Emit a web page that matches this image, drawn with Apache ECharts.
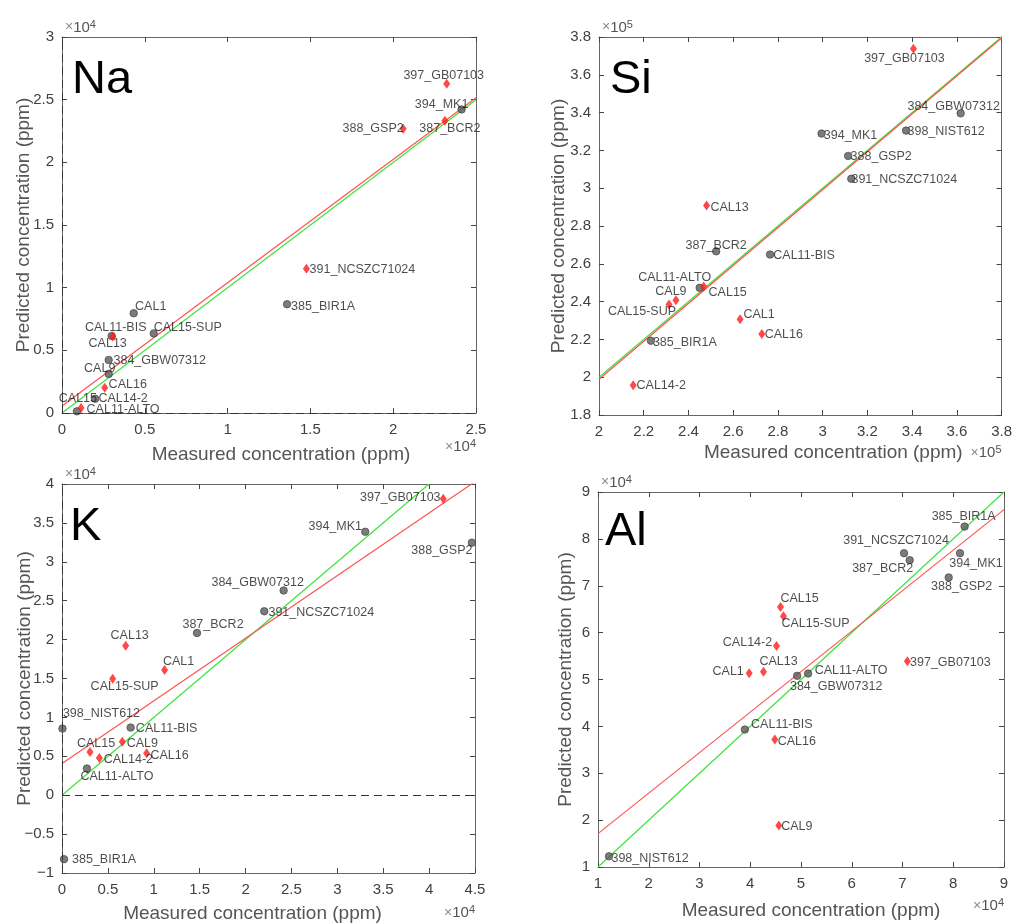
<!DOCTYPE html>
<html><head><meta charset="utf-8">
<script src="https://cdn.jsdelivr.net/npm/echarts@6/dist/echarts.min.js"></script>
<style>html,body{margin:0;padding:0;background:#fff}#c{width:1015px;height:924px}</style>
</head><body><div id="c"></div>
<script>
// ---------------- DATA (ppm) ----------------
// Na
const naNames = ['397_GB07103','394_MK1','387_BCR2','388_GSP2','391_NCSZC71024','385_BIR1A','CAL1','CAL15-SUP','CAL11-BIS','CAL13','384_GBW07312','CAL9','CAL16','CAL14-2','CAL15','CAL11-ALTO'];
const naMeasured = [23230, 24130, 23120, 20600, 14760, 13590, 4330, 5540, 3000, 3060, 2820, 2820, 2580, 2000, 900, 1150];
const naPredicted = [26260, 24220, 23320, 22670, 11510, 8680, 7960, 6350, 6150, 6110, 4230, 3120, 2010, 1140, 130, 400];
const naGroup = ['r','g','r','r','r','g','g','g','g','r','g','g','r','g','g','r'];
const naFitX = [0, 25000], naFitY = [560, 25160];
const naIdX = [0, 25000], naIdY = [0, 25000];

// Si
const siNames = ['397_GB07103','384_GBW07312','398_NIST612','394_MK1','388_GSP2','391_NCSZC71024','CAL13','387_BCR2','CAL11-BIS','CAL11-ALTO','CAL15','CAL9','CAL15-SUP','CAL1','CAL16','385_BIR1A','CAL14-2'];
const siMeasured = [340600, 361700, 337300, 299500, 311400, 312800, 248100, 252400, 276500, 245000, 246800, 234400, 231300, 263100, 272800, 223200, 215300];
const siPredicted = [373800, 339600, 330500, 328900, 317100, 305000, 290800, 266600, 264900, 247300, 248000, 240700, 238400, 230700, 222800, 219300, 195700];
const siGroup = ['r','g','g','g','g','g','r','g','g','g','r','r','r','r','r','g','r'];
const siFitX = [200000, 380000], siFitY = [198900, 379500];
const siIdX = [200000, 380000], siIdY = [200000, 380000];

// K
const kNames = ['397_GB07103','394_MK1','388_GSP2','384_GBW07312','391_NCSZC71024','387_BCR2','CAL13','CAL1','CAL15-SUP','398_NIST612','CAL11-BIS','CAL9','CAL15','CAL14-2','CAL16','CAL11-ALTO','385_BIR1A'];
const kMeasured = [41540, 33040, 44660, 24150, 22040, 14710, 6940, 11180, 5520, 50, 7480, 6570, 3050, 4070, 9220, 2720, 220];
const kPredicted = [38100, 33860, 32460, 26310, 23640, 20850, 19200, 16100, 14960, 8560, 8690, 6860, 5550, 4790, 5380, 3430, -8220];
const kGroup = ['r','g','g','g','g','g','r','r','r','g','g','r','r','r','r','g','g'];
const kFitX = [0, 45000], kFitY = [4070, 40300];
const kIdX = [0, 40000], kIdY = [0, 40000];

// Al
const alNames = ['385_BIR1A','391_NCSZC71024','387_BCR2','394_MK1','388_GSP2','CAL15','CAL15-SUP','CAL14-2','397_GB07103','CAL13','CAL1','384_GBW07312','CAL11-ALTO','CAL11-BIS','CAL16','CAL9','398_NIST612'];
const alMeasured = [82240, 70300, 71420, 81330, 79100, 45960, 46550, 45170, 70960, 42610, 39790, 49240, 51400, 38940, 44840, 45630, 12170];
const alPredicted = [82620, 76950, 75460, 76950, 71770, 65460, 63480, 57160, 53900, 51630, 51350, 50780, 51280, 39320, 37190, 18830, 12280];
const alGroup = ['g','g','g','g','g','r','r','r','r','r','r','g','g','g','r','r','g'];
const alFitX = [10000, 90000], alFitY = [17120, 86240];
const alIdX = [10000, 90000], alIdY = [10000, 90000];

// ---------------- STYLE / LAYOUT ----------------
const FONT = '"Liberation Sans", Arial, Helvetica, sans-serif';
const AX = '#666666', TXT = '#404040', TITLE = '#555555';

const naOff = {'397_GB07103':[-3,-8],'394_MK1':[-20,-5],'387_BCR2':[5,8],'388_GSP2':[-30,0],'391_NCSZC71024':[56,1],'385_BIR1A':[36,2],'CAL1':[17,-7],'CAL15-SUP':[34,-6],'CAL11-BIS':[4,-8],'CAL13':[-5,7],'384_GBW07312':[51,1],'CAL9':[-9,-5],'CAL16':[23,-3],'CAL14-2':[28,0],'CAL15':[1,-13],'CAL11-ALTO':[42,2]};
const siOff = {'397_GB07103':[-9,10],'384_GBW07312':[-7,-7],'398_NIST612':[40,1],'394_MK1':[29,2],'388_GSP2':[33,1],'391_NCSZC71024':[53,1],'CAL13':[23,2],'387_BCR2':[0,-6],'CAL11-BIS':[34,1],'CAL11-ALTO':[-25,-10],'CAL15':[24,6],'CAL9':[-5,-9],'CAL15-SUP':[-27,7],'CAL1':[19,-5],'CAL16':[22,0],'385_BIR1A':[34,2],'CAL14-2':[28,0]};
const kOff = {'397_GB07103':[-43,-1],'394_MK1':[-30,-5],'388_GSP2':[-30,8],'384_GBW07312':[-26,-8],'391_NCSZC71024':[57,1],'387_BCR2':[16,-8],'CAL13':[4,-10],'CAL1':[14,-8],'CAL15-SUP':[12,8],'398_NIST612':[39,-15],'CAL11-BIS':[36,1],'CAL9':[20,2],'CAL15':[6,-8],'CAL14-2':[29,2],'CAL16':[23,2],'CAL11-ALTO':[30,8],'385_BIR1A':[40,0]};
const alOff = {'385_BIR1A':[-1,-10],'391_NCSZC71024':[-8,-13],'387_BCR2':[-27,8],'394_MK1':[16,10],'388_GSP2':[13,9],'CAL15':[19,-8],'CAL15-SUP':[32,7],'CAL14-2':[-29,-3],'397_GB07103':[43,1],'CAL13':[15,-10],'CAL1':[-21,-2],'384_GBW07312':[39,11],'CAL11-ALTO':[43,-3],'CAL11-BIS':[37,-5],'CAL16':[22,2],'CAL9':[18,1],'398_NIST612':[41,2]};

const panels = [
  {el:'Na', names:naNames, xs:naMeasured, ys:naPredicted, grp:naGroup, fitX:naFitX, fitY:naFitY, idX:naIdX, idY:naIdY, off:naOff,
   grid:{left:62, top:37, width:414, height:376}, x:[0,25000,5000], y:[0,30000,5000], xs10:1e4, ys10:1e4, exp:'4', zero:true,
   xGap:32, yGap:29, xExpGap:34, elPos:[10,20], xPad:[0,0,0,24]},
  {el:'Si', names:siNames, xs:siMeasured, ys:siPredicted, grp:siGroup, fitX:siFitX, fitY:siFitY, idX:siIdX, idY:siIdY, off:siOff,
   grid:{left:599, top:37, width:404, height:378}, x:[200000,380000,20000], y:[180000,380000,20000], xs10:1e5, ys10:1e5, exp:'5', zero:false,
   xGap:28, yGap:31, xExpGap:38, elPos:[11,20], xPad:[0,0,0,66]},
  {el:'K', names:kNames, xs:kMeasured, ys:kPredicted, grp:kGroup, fitX:kFitX, fitY:kFitY, idX:kIdX, idY:kIdY, off:kOff,
   grid:{left:62, top:484, width:413, height:393}, x:[0,45000,5000], y:[-10000,40000,5000], xs10:1e4, ys10:1e4, exp:'4', zero:true,
   xGap:31, yGap:28, xExpGap:40, elPos:[8,20], xPad:[0,32,0,0]},
  {el:'Al', names:alNames, xs:alMeasured, ys:alPredicted, grp:alGroup, fitX:alFitX, fitY:alFitY, idX:alIdX, idY:alIdY, off:alOff,
   grid:{left:598, top:492, width:406, height:375}, x:[10000,90000,10000], y:[10000,90000,10000], xs10:1e4, ys10:1e4, exp:'4', zero:false,
   xGap:34, yGap:23, xExpGap:39, elPos:[7,17], xPad:[0,0,0,20]}
];

function fmt(scale){
  return function(v){
    const s = +(v/scale).toFixed(3);
    return s < 0 ? '\u2212' + (-s) : String(s);
  };
}
const expRich = {
  m:{fontSize:14, color:'#8a8a8a', fontFamily:FONT},
  t:{fontSize:15, color:'#555', fontFamily:FONT},
  e:{fontSize:11, color:'#555', fontFamily:FONT, verticalAlign:'top', padding:[0,0,6,0]}
};
function expText(e){ return '{m|×}{t|10}{e|' + e + '}'; }

const grids=[], xAxes=[], yAxes=[], series=[], titles=[];
function tick(){ return {show:true, inside:true, length:5, lineStyle:{color:'#444', width:1}}; }
function axLine(){ return {show:true, onZero:false, lineStyle:{color:AX, width:1}}; }

panels.forEach((p,i)=>{
  grids.push(Object.assign({containLabel:false}, p.grid));
  xAxes[i] = {gridIndex:i, type:'value', position:'bottom', min:p.x[0], max:p.x[1], interval:p.x[2],
    axisLine:axLine(), axisTick:tick(), splitLine:{show:false},
    axisLabel:{color:TXT, fontSize:15, margin:9, fontFamily:FONT, formatter:fmt(p.xs10)},
    name:'Measured concentration (ppm)', nameLocation:'middle', nameGap:p.xGap, nameMoveOverlap:false,
    nameTextStyle:{fontSize:19, color:TITLE, fontFamily:FONT, padding:p.xPad}};
  xAxes[i+4] = {gridIndex:i, type:'value', position:'top', min:p.x[0], max:p.x[1], interval:p.x[2],
    axisLine:axLine(), axisTick:tick(), splitLine:{show:false}, axisLabel:{show:false},
    name:expText(p.exp), nameLocation:'start', nameGap:-3, nameMoveOverlap:false,
    nameTextStyle:{align:'left', verticalAlign:'bottom', padding:[0,0,1,0], rich:expRich}};
  yAxes[i] = {gridIndex:i, type:'value', position:'left', min:p.y[0], max:p.y[1], interval:p.y[2],
    axisLine:axLine(), axisTick:tick(), splitLine:{show:false},
    axisLabel:{color:TXT, fontSize:15, margin:8, fontFamily:FONT, formatter:fmt(p.ys10)},
    name:'Predicted concentration (ppm)', nameLocation:'middle', nameGap:p.yGap, nameMoveOverlap:false,
    nameTextStyle:{fontSize:19, color:TITLE, fontFamily:FONT}};
  yAxes[i+4] = {gridIndex:i, type:'value', position:'right', min:p.y[0], max:p.y[1], interval:p.y[2],
    axisLine:axLine(), axisTick:tick(), splitLine:{show:false}, axisLabel:{show:false},
    name:expText(p.exp), nameLocation:'start', nameGap:p.xExpGap, nameMoveOverlap:false,
    nameTextStyle:{align:'right', verticalAlign:'middle', rich:expRich}};

  titles.push({text:p.el, left:p.grid.left+p.elPos[0], top:p.grid.top+p.elPos[1], padding:0,
    textStyle:{fontSize:47, fontWeight:'normal', color:'#000', fontFamily:FONT}});

  const mk = g => p.names.map((n,j)=>({n,j})).filter(o=>p.grp[o.j]===g).map(o=>({
    name:o.n, value:[p.xs[o.j], p.ys[o.j]], label:{offset:p.off[o.n]||[0,0]}}));
  const lbl = {show:true, position:'inside', formatter:'{b}', fontSize:12.5, color:'#1e1e1e', fontFamily:FONT};

  const green = {type:'line', xAxisIndex:i, yAxisIndex:i, symbol:'none', z:2,
    data:p.idX.map((x,k)=>[x,p.idY[k]]), lineStyle:{color:'#3de33d', width:1.2}};
  if (p.zero) {
    green.markLine = {silent:true, symbol:'none', animation:false, label:{show:false},
      lineStyle:{color:'#333', type:[8,5], width:1}, data:[{yAxis:0},{xAxis:0}]};
  }
  series.push(green);
  series.push({type:'line', xAxisIndex:i, yAxisIndex:i, symbol:'none', z:2,
    data:p.fitX.map((x,k)=>[x,p.fitY[k]]), lineStyle:{color:'#ff5252', width:1.2}});
  series.push({type:'scatter', xAxisIndex:i, yAxisIndex:i, symbol:'circle', symbolSize:7.5, z:3,
    itemStyle:{color:'#5a5a5a', borderColor:'#3c3c3c', borderWidth:0.8}, label:lbl, data:mk('g')});
  series.push({type:'scatter', xAxisIndex:i, yAxisIndex:i, symbol:'diamond', symbolSize:[7,10], z:4,
    itemStyle:{color:'#ff1a1a'}, label:lbl, data:mk('r')});
});

const chart = echarts.init(document.getElementById('c'), null, {renderer:'canvas'});
chart.setOption({
  animation:false, backgroundColor:'#fff',
  title:titles, grid:grids, xAxis:xAxes, yAxis:yAxes, series
});
</script></body></html>
